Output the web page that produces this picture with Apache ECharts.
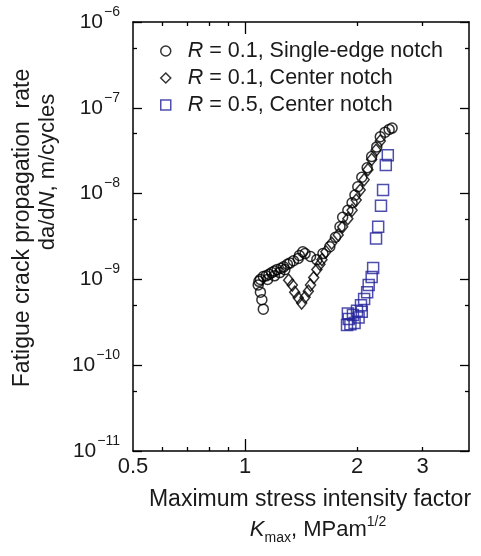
<!DOCTYPE html>
<html><head><meta charset="utf-8">
<script src="https://cdn.jsdelivr.net/npm/echarts@6/dist/echarts.min.js"></script>
<style>html,body{margin:0;padding:0;background:#fff}#c{width:481px;height:556px}</style>
</head><body><div id="c"></div>
<script>
const FONT = '"Liberation Sans", Arial, sans-serif';
const TXT = '#1a1a1a';
const BLUE = '#22229a';

// axis ticks / labels
const xTickLabels = [0.5, 1, 2, 3];
const xMajorTicks = [1];
const xMinorTicks = [0.6, 0.7, 0.8, 0.9, 2, 3];
const yMajorTicks = [1e-11, 1e-10, 1e-9, 1e-8, 1e-7, 1e-6];
const yMinorTicks = [5e-11, 5e-10, 5e-9, 5e-8, 5e-7];

const seriesNames = ['R = 0.1, Single-edge notch', 'R = 0.1, Center notch', 'R = 0.5, Center notch'];

// R = 0.1, single-edge notch (circles)
const senR01K = [2.485, 2.44, 2.38, 2.31, 2.26, 2.19, 2.13, 2.06, 2.01, 1.975, 1.94, 1.89, 1.83, 1.80, 1.75, 1.69, 1.62, 1.56, 1.50, 1.45, 1.43, 1.40, 1.39, 1.35, 1.32, 1.30, 1.28, 1.27, 1.25, 1.24, 1.22, 1.20, 1.20, 1.18, 1.16, 1.15, 1.14, 1.12, 1.10, 1.09, 1.085, 1.10, 1.11, 1.12];
const senR01V = [5.8e-8, 5.6e-8, 5.2e-8, 4.6e-8, 3.5e-8, 2.7e-8, 2.0e-8, 1.55e-8, 1.2e-8, 9.6e-9, 7.8e-9, 6.4e-9, 5.3e-9, 4.1e-9, 3.1e-9, 2.4e-9, 2.0e-9, 1.7e-9, 1.85e-9, 2.0e-9, 2.1e-9, 1.9e-9, 1.75e-9, 1.65e-9, 1.55e-9, 1.5e-9, 1.3e-9, 1.4e-9, 1.35e-9, 1.2e-9, 1.3e-9, 1.25e-9, 1.1e-9, 1.2e-9, 1.15e-9, 1.0e-9, 1.1e-9, 1.08e-9, 1.0e-9, 9.5e-10, 8.6e-10, 7.1e-10, 5.8e-10, 4.5e-10];

// R = 0.1, center notch (diamonds)
const cnR01K = [1.31, 1.34, 1.36, 1.39, 1.42, 1.45, 1.48, 1.50, 1.53, 1.56, 1.59, 1.61, 1.65, 1.71, 1.78, 1.83, 1.89, 1.94, 1.99, 2.04, 2.09, 2.14, 2.19, 2.25, 2.31];
const cnR01V = [9.8e-10, 8.6e-10, 7.1e-10, 6.1e-10, 5.3e-10, 6.2e-10, 7.3e-10, 8.6e-10, 1.05e-9, 1.3e-9, 1.5e-9, 1.7e-9, 2.1e-9, 2.65e-9, 3.3e-9, 4.1e-9, 5.1e-9, 6.4e-9, 8.4e-9, 1.1e-8, 1.45e-8, 1.9e-8, 2.5e-8, 3.2e-8, 4.1e-8];

// R = 0.5, center notch (squares)
const cnR05K = [2.42, 2.39, 2.35, 2.32, 2.28, 2.25, 2.21, 2.19, 2.15, 2.13, 2.09, 2.05, 2.00, 1.95, 1.90, 1.88, 1.92, 1.97, 2.02, 2.06, 1.89];
const cnR05V = [2.8e-8, 2.15e-8, 1.1e-8, 7.2e-9, 4.1e-9, 3.0e-9, 1.36e-9, 1.07e-9, 8.6e-10, 7.1e-10, 5.9e-10, 5.0e-10, 4.3e-10, 3.85e-10, 3.45e-10, 2.95e-10, 3.0e-10, 3.1e-10, 3.6e-10, 4.2e-10, 4.0e-10];

const zip = (a, b) => a.map((v, i) => [v, b[i]]);

const lineStyle = { color: '#000', width: 1.5 };
function xAxisDef(pos, ticks, len, showLine, labels) {
  return {
    type: 'log', logBase: 10, min: 0.5, max: 4, position: pos,
    axisLine: { show: showLine, lineStyle },
    axisTick: { show: true, inside: true, length: len, customValues: ticks, lineStyle: { color: '#000', width: 1.3 } },
    axisLabel: labels ? {
      show: true, customValues: xTickLabels, margin: 5, color: TXT, fontSize: 22, fontFamily: FONT,
      formatter: v => String(Math.round(v * 10) / 10)
    } : { show: false },
    splitLine: { show: false }, minorTick: { show: false }, minorSplitLine: { show: false }
  };
}
function yAxisDef(pos, ticks, len, showLine, labels) {
  return {
    type: 'log', logBase: 10, min: 1e-11, max: 1e-6, position: pos,
    axisLine: { show: showLine, lineStyle },
    axisTick: { show: true, inside: true, length: len, customValues: ticks, lineStyle: { color: '#000', width: 1.3 } },
    axisLabel: labels ? {
      show: true, customValues: yMajorTicks, margin: 13,
      formatter: v => '{b|10}{s|\u2212' + Math.round(-Math.log10(v)) + '}',
      rich: {
        b: { fontSize: 21, fontFamily: FONT, color: TXT, lineHeight: 40, verticalAlign: 'middle' },
        s: { fontSize: 14, fontFamily: FONT, color: TXT, lineHeight: 40, verticalAlign: 'top', padding: [3, 0, 0, 1] }
      }
    } : { show: false },
    splitLine: { show: false }, minorTick: { show: false }, minorSplitLine: { show: false }
  };
}

const symStyle = (c) => ({ color: 'rgba(255,255,255,0)', borderColor: c, borderWidth: 1.5 });

const option = {
  animation: false,
  backgroundColor: '#fff',
  grid: { left: 133, right: 12, top: 22, bottom: 105, containLabel: false },
  xAxis: [
    xAxisDef('bottom', xMajorTicks, 12, true, true),
    xAxisDef('bottom', xMinorTicks, 4, false, false),
    xAxisDef('top', xMajorTicks, 12, true, false),
    xAxisDef('top', xMinorTicks, 4, false, false)
  ],
  yAxis: [
    yAxisDef('left', yMajorTicks, 9, true, true),
    yAxisDef('left', yMinorTicks, 4, false, false),
    yAxisDef('right', yMajorTicks, 9, true, false),
    yAxisDef('right', yMinorTicks, 4, false, false)
  ],
  legend: {
    orient: 'vertical', left: 155, top: 35,
    itemWidth: 10, itemHeight: 10, itemGap: 5,
    textStyle: {
      color: TXT, fontSize: 21.5, fontFamily: FONT,
      rich: {
        i: { fontStyle: 'italic', fontSize: 21.5, fontFamily: FONT, color: TXT, lineHeight: 24, padding: [0, 0, 0, 12] },
        n: { fontSize: 21.5, fontFamily: FONT, color: TXT, lineHeight: 24 }
      }
    },
    formatter: name => '{i|' + name.charAt(0) + '}{n|' + name.slice(1) + '}',
    data: [
      { name: seriesNames[0], icon: 'circle', itemStyle: symStyle('#000') },
      { name: seriesNames[1], icon: 'diamond', itemStyle: symStyle('#000') },
      { name: seriesNames[2], icon: 'rect', itemStyle: symStyle(BLUE) }
    ]
  },
  series: [
    { name: seriesNames[0], type: 'scatter', symbol: 'circle', symbolSize: 10, data: zip(senR01K, senR01V), itemStyle: symStyle('#000') },
    { name: seriesNames[1], type: 'scatter', symbol: 'diamond', symbolSize: [10, 12], data: zip(cnR01K, cnR01V), itemStyle: symStyle('#000') },
    { name: seriesNames[2], type: 'scatter', symbol: 'rect', symbolSize: 11, data: zip(cnR05K, cnR05V), itemStyle: symStyle(BLUE) }
  ],
  graphic: [
    { type: 'text', x: 310, y: 500, style: { text: 'Maximum stress intensity factor', fontSize: 23, fontFamily: FONT, fill: TXT, align: 'center', verticalAlign: 'middle' } },
    { type: 'text', x: 318, y: 530, style: {
        text: '{i|K}{sub|max}{n|, MPam}{sup|1/2}', align: 'center', verticalAlign: 'middle', fill: TXT,
        rich: {
          i: { fontSize: 22, fontStyle: 'italic', fontFamily: FONT, fill: TXT, lineHeight: 30 },
          n: { fontSize: 22, fontFamily: FONT, fill: TXT, lineHeight: 30 },
          sub: { fontSize: 14, fontFamily: FONT, fill: TXT, lineHeight: 30, verticalAlign: 'bottom' },
          sup: { fontSize: 14, fontFamily: FONT, fill: TXT, lineHeight: 30, verticalAlign: 'top' }
        } } },
    { type: 'text', x: 23, y: 228, rotation: Math.PI / 2, style: { text: 'Fatigue crack propagation  rate', fontSize: 23, fontFamily: FONT, fill: TXT, align: 'center', verticalAlign: 'middle' } },
    { type: 'text', x: 48, y: 172, rotation: Math.PI / 2, style: {
        text: '{n|da/d}{i|N}{n|, m/cycles}', align: 'center', verticalAlign: 'middle', fill: TXT,
        rich: {
          n: { fontSize: 22, fontFamily: FONT, fill: TXT },
          i: { fontSize: 22, fontStyle: 'italic', fontFamily: FONT, fill: TXT }
        } } }
  ]
};

const chart = echarts.init(document.getElementById('c'), null, { renderer: 'canvas' });
chart.setOption(option);
</script>
</body></html>
